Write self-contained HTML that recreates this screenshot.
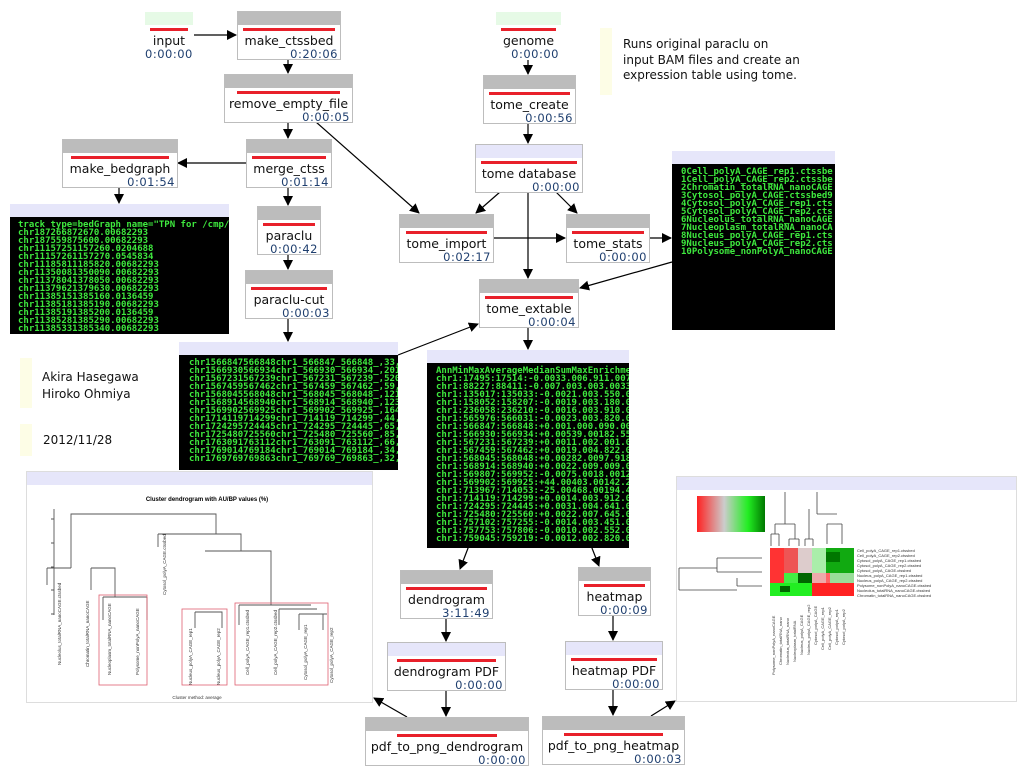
<!DOCTYPE html>
<html><head><meta charset="utf-8">
<style>
body{margin:0;width:1027px;height:775px;background:#fff;position:relative;overflow:hidden;font-family:"DejaVu Sans","Liberation Sans",sans-serif}
.n{position:absolute;border:1px solid #bdbdbd;background:#fff;box-sizing:border-box;overflow:hidden}
.n .h{height:13px;background:#bcbcbc}
.n .h.l{background:#e6e6fa}
.n .h.g{background:#e6fae6}
.n .r{height:3px;background:#e8202a;margin:3px 12px 0}
.n .t{text-align:center;font-size:12.5px;color:#111;margin-top:2px;line-height:15px;white-space:nowrap}
.n .tm{text-align:right;font-size:11.5px;color:#1f3f6f;padding-right:2px;line-height:12px;letter-spacing:0.5px;white-space:nowrap}
.n.ng{border-color:transparent}
.term{position:absolute;box-sizing:border-box}
.term .h{height:13px;background:#e6e6fa}
.term .b{background:#000;color:#3ee83e;font-family:"DejaVu Sans Mono","Liberation Mono",monospace;font-size:9px;font-weight:bold;line-height:8px;padding:4px 0 0 8px;white-space:pre;overflow:hidden}
.txt{position:absolute;font-size:12px;color:#111;line-height:16px}
.bar{position:absolute;background:#fdfde6}
</style></head><body>

<svg width="1027" height="775" style="position:absolute;left:0;top:0">
<defs><marker id="a" markerWidth="10" markerHeight="10" refX="9" refY="5" orient="auto" markerUnits="userSpaceOnUse"><path d="M0,0 L10,5 L0,10 z" fill="#000"/></marker></defs>
<g stroke="#000" stroke-width="1.2" fill="none" marker-end="url(#a)">
<line x1="193" y1="35" x2="236" y2="35"/>
<line x1="288" y1="59" x2="288" y2="73"/>
<line x1="288" y1="122" x2="288" y2="138"/>
<line x1="246" y1="163" x2="178" y2="163"/>
<line x1="119" y1="187" x2="119" y2="203"/>
<line x1="288" y1="187" x2="288" y2="205"/>
<line x1="288" y1="254" x2="288" y2="269"/>
<line x1="288" y1="318" x2="288" y2="341"/>
<line x1="316" y1="122" x2="419" y2="213"/>
<line x1="398" y1="355" x2="478" y2="324"/>
<line x1="528" y1="59" x2="528" y2="74"/>
<line x1="528" y1="123" x2="528" y2="143"/>
<line x1="500" y1="192" x2="476" y2="213"/>
<line x1="556" y1="192" x2="577" y2="213"/>
<line x1="528" y1="192" x2="528" y2="278"/>
<line x1="493" y1="238" x2="565" y2="238"/>
<line x1="649" y1="238" x2="671" y2="238"/>
<line x1="672" y1="262" x2="580" y2="288"/>
<line x1="528" y1="327" x2="528" y2="349"/>
<line x1="470" y1="543" x2="460" y2="569"/>
<line x1="590" y1="543" x2="599" y2="566"/>
<line x1="446" y1="618" x2="446" y2="641"/>
<line x1="613" y1="615" x2="613" y2="640"/>
<line x1="446" y1="690" x2="446" y2="716"/>
<line x1="613" y1="689" x2="613" y2="715"/>
<line x1="407" y1="717" x2="374" y2="698"/>
<line x1="651" y1="716" x2="675" y2="701"/>
</g>
</svg>

<!-- nodes -->
<div class="n ng" style="left:144px;top:11px;width:50px;height:49px"><div class="h g"></div><div class="r" style="margin:3px 5px 0"></div><div class="t">input</div><div class="tm">0:00:00</div></div>
<div class="n" style="left:237px;top:11px;width:104px;height:49px"><div class="h"></div><div class="r" style="margin:3px 5px 0"></div><div class="t">make_ctssbed</div><div class="tm">0:20:06</div></div>
<div class="n" style="left:224px;top:74px;width:129px;height:49px"><div class="h"></div><div class="r"></div><div class="t">remove_empty_file</div><div class="tm">0:00:05</div></div>
<div class="n" style="left:62px;top:139px;width:116px;height:49px"><div class="h"></div><div class="r" style="margin:3px 8px 0"></div><div class="t">make_bedgraph</div><div class="tm">0:01:54</div></div>
<div class="n" style="left:246px;top:139px;width:86px;height:49px"><div class="h"></div><div class="r" style="margin:3px 5px 0"></div><div class="t">merge_ctss</div><div class="tm">0:01:14</div></div>
<div class="n" style="left:257px;top:206px;width:64px;height:49px"><div class="h"></div><div class="r" style="margin:3px 5px 0"></div><div class="t">paraclu</div><div class="tm">0:00:42</div></div>
<div class="n" style="left:245px;top:270px;width:88px;height:49px"><div class="h"></div><div class="r" style="margin:3px 5px 0"></div><div class="t">paraclu-cut</div><div class="tm">0:00:03</div></div>
<div class="n ng" style="left:495px;top:11px;width:67px;height:49px"><div class="h g"></div><div class="r" style="margin:3px 5px 0"></div><div class="t">genome</div><div class="tm">0:00:00</div></div>
<div class="n" style="left:483px;top:75px;width:93px;height:49px"><div class="h"></div><div class="r" style="margin:3px 5px 0"></div><div class="t">tome_create</div><div class="tm">0:00:56</div></div>
<div class="n" style="left:475px;top:144px;width:108px;height:49px"><div class="h l"></div><div class="r" style="margin:3px 5px 0"></div><div class="t">tome database</div><div class="tm">0:00:00</div></div>
<div class="n" style="left:399px;top:214px;width:95px;height:49px"><div class="h"></div><div class="r" style="margin:3px 6px 0"></div><div class="t">tome_import</div><div class="tm">0:02:17</div></div>
<div class="n" style="left:566px;top:214px;width:84px;height:49px"><div class="h"></div><div class="r" style="margin:3px 5px 0"></div><div class="t">tome_stats</div><div class="tm">0:00:00</div></div>
<div class="n" style="left:479px;top:279px;width:100px;height:49px"><div class="h"></div><div class="r" style="margin:3px 5px 0"></div><div class="t">tome_extable</div><div class="tm">0:00:04</div></div>
<div class="n" style="left:400px;top:570px;width:93px;height:49px"><div class="h"></div><div class="r" style="margin:3px 5px 0"></div><div class="t">dendrogram</div><div class="tm">3:11:49</div></div>
<div class="n" style="left:387px;top:642px;width:119px;height:49px"><div class="h l"></div><div class="r" style="margin:3px 9px 0"></div><div class="t">dendrogram PDF</div><div class="tm">0:00:00</div></div>
<div class="n" style="left:578px;top:567px;width:73px;height:49px"><div class="h"></div><div class="r" style="margin:3px 5px 0"></div><div class="t">heatmap</div><div class="tm">0:00:09</div></div>
<div class="n" style="left:565px;top:641px;width:98px;height:49px"><div class="h l"></div><div class="r" style="margin:3px 5px 0"></div><div class="t">heatmap PDF</div><div class="tm">0:00:00</div></div>
<div class="n" style="left:365px;top:717px;width:164px;height:49px"><div class="h"></div><div class="r" style="margin:3px 31px 0"></div><div class="t">pdf_to_png_dendrogram</div><div class="tm">0:00:00</div></div>
<div class="n" style="left:542px;top:716px;width:143px;height:49px"><div class="h"></div><div class="r" style="margin:3px 21px 0"></div><div class="t">pdf_to_png_heatmap</div><div class="tm">0:00:03</div></div>

<!-- terminals -->
<div class="term" style="left:10px;top:204px;width:219px;height:126px"><div class="h"></div><div class="b" style="height:113px">track type=bedGraph name="TPN for /cmp/
chr187266872670.00682293
chr187559875600.00682293
chr11157251157260.0204688
chr11157261157270.0545834
chr11185811185820.00682293
chr11350081350090.00682293
chr11378041378050.00682293
chr11379621379630.00682293
chr11385151385160.0136459
chr11385181385190.00682293
chr11385191385200.0136459
chr11385281385290.00682293
chr11385331385340.00682293</div></div>

<div class="term" style="left:179px;top:342px;width:219px;height:124px"><div class="h"></div><div class="b" style="height:111px;padding-left:10px">chr1566847566848chr1_566847_566848_,33,
chr1566930566934chr1_566930_566934_,201
chr1567231567239chr1_567231_567239_,520
chr1567459567462chr1_567459_567462_,59,
chr1568045568048chr1_568045_568048_,121
chr1568914568940chr1_568914_568940_,123
chr1569902569925chr1_569902_569925_,164
chr1714119714299chr1_714119_714299_,44,
chr1724295724445chr1_724295_724445_,65,
chr1725480725560chr1_725480_725560_,85,
chr1763091763112chr1_763091_763112_,66,
chr1769014769184chr1_769014_769184_,34,
chr1769769769863chr1_769769_769863_,32,</div></div>

<div class="term" style="left:672px;top:151px;width:163px;height:175px"><div class="h"></div><div class="b" style="height:162px;padding-left:9px">0Cell_polyA_CAGE_rep1.ctssbe
1Cell_polyA_CAGE_rep2.ctssbe
2Chromatin_totalRNA_nanoCAGE
3Cytosol_polyA_CAGE.ctssbed9
4Cytosol_polyA_CAGE_rep1.cts
5Cytosol_polyA_CAGE_rep2.cts
6Nucleolus_totalRNA_nanoCAGE
7Nucleoplasm_totalRNA_nanoCA
8Nucleus_polyA_CAGE_rep1.cts
9Nucleus_polyA_CAGE_rep2.cts
10Polysome_nonPolyA_nanoCAGE</div></div>

<div class="term" style="left:427px;top:350px;width:202px;height:194px"><div class="h"></div><div class="b" style="height:181px;padding-left:9px">AnnMinMaxAverageMedianSumMaxEnrichme
chr1:17495:17514:-0.0033.006.911.007
chr1:88227:88411:-0.007.003.003.0033
chr1:135017:135033:-0.0021.003.550.0
chr1:158052:158207:-0.0019.003.180.0
chr1:236058:236210:-0.0016.003.910.0
chr1:565976:566031:-0.0023.003.820.0
chr1:566847:566848:+0.001.000.090.00
chr1:566930:566934:+0.00539.00182.55
chr1:567231:567239:+0.0011.002.001.0
chr1:567459:567462:+0.0019.004.822.0
chr1:568045:568048:+0.00282.0097.918
chr1:568914:568940:+0.0022.009.009.0
chr1:569807:569952:-0.0075.0018.0012
chr1:569902:569925:+44.00403.00142.2
chr1:713967:714053:-25.00468.00194.4
chr1:714119:714299:+0.0014.003.912.0
chr1:724295:724445:+0.0031.004.641.0
chr1:725480:725560:+0.0022.007.645.0
chr1:757102:757255:-0.0014.003.451.0
chr1:757753:757806:-0.0010.002.552.0
chr1:759045:759219:-0.0012.002.820.0</div></div>

<!-- notes -->
<div class="bar" style="left:600px;top:28px;width:12px;height:67px"></div>
<div class="txt" style="left:623px;top:37px;line-height:15.5px">Runs original paraclu on<br>input BAM files and create an<br>expression table using tome.</div>
<div class="bar" style="left:20px;top:358px;width:12px;height:50px"></div>
<div class="txt" style="left:42px;top:369px;line-height:17px">Akira Hasegawa<br>Hiroko Ohmiya</div>
<div class="bar" style="left:20px;top:424px;width:12px;height:32px"></div>
<div class="txt" style="left:43px;top:432px">2012/11/28</div>

<!-- dendrogram image -->
<div style="position:absolute;left:26px;top:471px;width:347px;height:232px;border:1px solid #ddd;box-sizing:border-box;background:#fff">
<div style="height:13px;background:#e6e6fa"></div>
<svg width="345" height="217" style="position:absolute;left:0;top:13px">
<text x="180" y="16" font-size="6" text-anchor="middle" font-family="Liberation Sans" font-weight="bold">Cluster dendrogram with AU/BP values (%)</text>
<g stroke="#555" fill="none" stroke-width="0.9">
<path d="M27,24 V130 M27,34 h-3 M27,58 h-3 M27,82 h-3 M27,105 h-3 M27,129 h-3"/>
<path d="M44,83 V29 H189 V49"/>
<path d="M44,83 H20"/>
<path d="M20,83 V100 M64,83 V105"/>
<path d="M64,83 H88 V95 M88,95 V112"/>
<path d="M76,112 H120 M76,112 V135 M120,112 V135"/>
<path d="M131,49 H214 V66 M131,49 V62"/>
<path d="M178,66 H244 V120 M212,120 H284 M212,120 V140 M252,124 V140 M252,124 H290 M272,129 V145 M296,129 V145 M272,129 H300"/>
<path d="M168,127 H195 V143 M168,127 V143"/>
</g>
<g stroke="#e06070" fill="none" stroke-width="0.8">
<rect x="72" y="110" width="48" height="90"/><rect x="155" y="124" width="45" height="76"/><rect x="208" y="118" width="93" height="82"/>
</g>
<g font-size="4.5" fill="#333" font-family="Liberation Sans">
<text transform="translate(34,180) rotate(-90)">Nucleolus_totalRNA_nanoCAGE.ctssbed</text>
<text transform="translate(62,182) rotate(-90)">Chromatin_totalRNA_nanoCAGE</text>
<text transform="translate(84,190) rotate(-90)">Nucleoplasm_totalRNA_nanoCAGE</text>
<text transform="translate(112,190) rotate(-90)">Polysome_nonPolyA_nanoCAGE</text>
<text transform="translate(139,110) rotate(-90)">Cytosol_polyA_CAGE.ctssbed</text>
<text transform="translate(165,200) rotate(-90)">Nucleus_polyA_CAGE_rep1</text>
<text transform="translate(193,200) rotate(-90)">Nucleus_polyA_CAGE_rep2</text>
<text transform="translate(222,190) rotate(-90)">Cell_polyA_CAGE_rep1.ctssbed</text>
<text transform="translate(250,190) rotate(-90)">Cell_polyA_CAGE_rep2.ctssbed</text>
<text transform="translate(280,195) rotate(-90)">Cytosol_polyA_CAGE_rep1</text>
<text transform="translate(306,198) rotate(-90)">Cytosol_polyA_CAGE_rep2</text>
<text x="170" y="214" text-anchor="middle">Cluster method: average</text>
</g>
</svg></div>

<!-- heatmap image -->
<div style="position:absolute;left:676px;top:476px;width:341px;height:226px;border:1px solid #ddd;box-sizing:border-box;background:#fff">
<div style="height:13px;background:#e6e6fa"></div>
<svg width="339" height="211" style="position:absolute;left:0;top:13px">
<defs><linearGradient id="k"><stop offset="0" stop-color="#f22"/><stop offset="0.4" stop-color="#ccc"/><stop offset="0.75" stop-color="#2e2"/><stop offset="1" stop-color="#070"/></linearGradient></defs>
<rect x="20" y="6" width="68" height="36" fill="url(#k)"/>
<g stroke="#444" fill="none" stroke-width="0.8">
<path d="M108,2 V34 M98,34 H118 M98,34 V44 M118,34 V49 M94,44 H102 M94,44 V56 M102,44 V56 M112,49 H122 M112,49 V56 M122,49 V56 M132,19 V49 M128,49 H136 M128,49 V56 M136,49 V56 M140,2 V24 M140,24 H160 M150,34 H165 M150,34 V54 M165,34 V54"/>
<path d="M2,78 V100 M2,78 H40 M2,100 H60 M40,68 H85 M40,68 V82 M60,88 V96 M40,82 H85 M60,96 H85"/>
</g>
<g>
<rect x="93" y="58" width="14" height="48" fill="#f33"/>
<rect x="107" y="58" width="14" height="25" fill="#e55"/>
<rect x="121" y="58" width="14" height="25" fill="#dcc"/>
<rect x="135" y="58" width="14" height="25" fill="#aea"/>
<rect x="149" y="58" width="28" height="25" fill="#1a1"/>
<rect x="149" y="62" width="14" height="10" fill="#070"/>
<rect x="107" y="83" width="42" height="10" fill="#4e4"/>
<rect x="121" y="83" width="14" height="10" fill="#060"/>
<rect x="135" y="83" width="14" height="10" fill="#eaa"/>
<rect x="149" y="83" width="28" height="10" fill="#9d9"/>
<rect x="93" y="93" width="42" height="13" fill="#2e2"/>
<rect x="103" y="96" width="10" height="6" fill="#060"/>
<rect x="135" y="93" width="42" height="13" fill="#f22"/>
<rect x="149" y="83" width="4" height="10" fill="#f66"/>
</g>
<g font-size="4" fill="#333" font-family="Liberation Sans">
<text x="180" y="62">Cell_polyA_CAGE_rep1.ctssbed</text><text x="180" y="67">Cell_polyA_CAGE_rep2.ctssbed</text>
<text x="180" y="72">Cytosol_polyA_CAGE_rep1.ctssbed</text><text x="180" y="77">Cytosol_polyA_CAGE_rep2.ctssbed</text>
<text x="180" y="82">Cytosol_polyA_CAGE.ctssbed</text><text x="180" y="87">Nucleus_polyA_CAGE_rep1.ctssbed</text>
<text x="180" y="92">Nucleus_polyA_CAGE_rep2.ctssbed</text><text x="180" y="97">Polysome_nonPolyA_nanoCAGE.ctssbed</text>
<text x="180" y="102">Nucleolus_totalRNA_nanoCAGE.ctssbed</text><text x="180" y="107">Chromatin_totalRNA_nanoCAGE.ctssbed</text>
</g>
<g font-size="4" fill="#333" font-family="Liberation Sans">
<text transform="translate(98,185) rotate(-90)">Polysome_nonPolyA_nanoCAGE</text>
<text transform="translate(105,175) rotate(-90)">Chromatin_totalRNA_nano</text>
<text transform="translate(112,175) rotate(-90)">Nucleolus_totalRNA_nano</text>
<text transform="translate(119,172) rotate(-90)">Nucleoplasm_totalRNA</text>
<text transform="translate(126,165) rotate(-90)">Nucleus_polyA_CAGE</text>
<text transform="translate(133,165) rotate(-90)">Nucleus_polyA_CAGE_rep2</text>
<text transform="translate(140,155) rotate(-90)">Cytosol_polyA_CAGE</text>
<text transform="translate(147,160) rotate(-90)">Cell_polyA_CAGE_rep1</text>
<text transform="translate(154,160) rotate(-90)">Cell_polyA_CAGE_rep2</text>
<text transform="translate(161,155) rotate(-90)">Cytosol_polyA_rep1</text>
<text transform="translate(168,155) rotate(-90)">Cytosol_polyA_rep2</text>
</g>
</svg></div>

</body></html>
